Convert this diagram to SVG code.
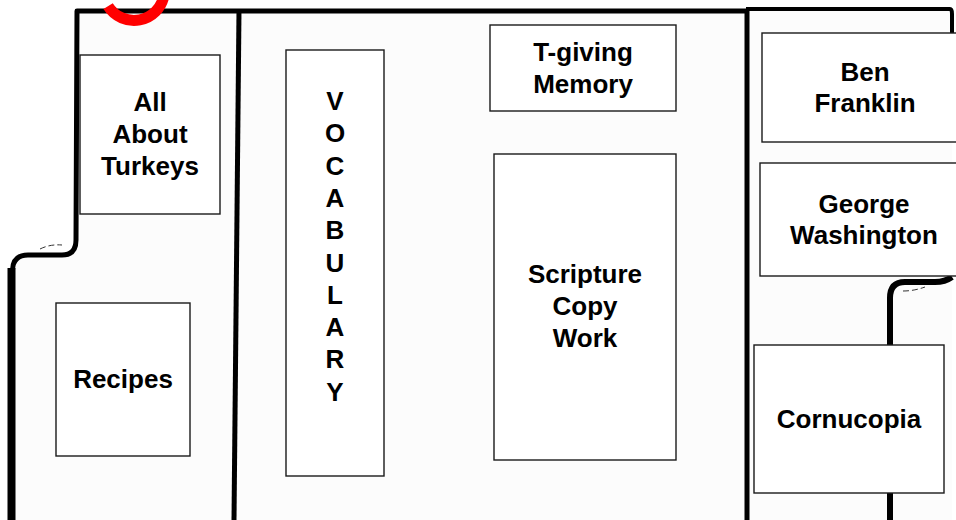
<svg xmlns="http://www.w3.org/2000/svg" width="956" height="520" viewBox="0 0 956 520">
<defs>
<style>
.box{fill:#ffffff;stroke:#1a1a1a;stroke-width:1.4}
.lbl{font-family:"Liberation Sans",Arial,sans-serif;font-weight:bold;font-size:26px;fill:#000;text-anchor:middle}
.edge{fill:none;stroke:#000;stroke-linecap:butt;stroke-linejoin:round}
.dash{fill:none;stroke:#333;stroke-width:1;stroke-dasharray:6 3}
</style>
</defs>
<rect x="0" y="0" width="956" height="520" fill="#ffffff"/>
<path d="M77,11 L952,10 L952,520 L12,520 L12,270 Q12,255 28,255 L62,255 Q76,255 76,240 Z" fill="#fcfcfc"/>
<g id="connectors">
<path class="edge" stroke-width="5" d="M12.5,520 L12.5,270 Q13,255 28,255 L62,255 Q76,255 76,240 L77,11 L748,11"/>
<path class="edge" stroke-width="8" d="M11.5,520 L11.5,268"/>
<path class="edge" stroke-width="4" d="M746,9 L950,9 Q952,9 952,14 L952,34"/>
<path class="edge" stroke-width="5" d="M239,10 L234,520"/>
<path class="edge" stroke-width="5" d="M747,9 L747,520"/>
<path class="edge" stroke-width="6" d="M952,277 Q945,282 935,282 L905,282 Q890,282 890,298 L890,520"/>
<path class="dash" d="M40,249 Q50,244 62,245"/>
<path class="dash" d="M903,291 Q914,291 925,287"/>
<path fill="none" stroke="#ff0000" stroke-width="11" d="M108.1,6.1 A30.5,30.5 0 0 0 164,-4.7"/>
</g>
<g id="turkeys"><rect class="box" x="80" y="55" width="140" height="159"/>
<text class="lbl" x="150" y="111">All</text><text class="lbl" x="150" y="143">About</text><text class="lbl" x="150" y="175">Turkeys</text></g>
<g id="recipes"><rect class="box" x="56" y="303" width="134" height="153"/>
<text class="lbl" x="123" y="388">Recipes</text></g>
<g id="vocabulary"><rect class="box" x="286" y="50" width="98" height="426"/>
<text class="lbl" x="335" y="110">V</text><text class="lbl" x="335" y="142">O</text><text class="lbl" x="335" y="175">C</text><text class="lbl" x="335" y="207">A</text><text class="lbl" x="335" y="239">B</text><text class="lbl" x="335" y="272">U</text><text class="lbl" x="335" y="304">L</text><text class="lbl" x="335" y="336">A</text><text class="lbl" x="335" y="368">R</text><text class="lbl" x="335" y="401">Y</text></g>
<g id="tgiving"><rect class="box" x="490" y="25" width="186" height="86"/>
<text class="lbl" x="583" y="61">T-giving</text><text class="lbl" x="583" y="93">Memory</text></g>
<g id="scripture"><rect class="box" x="494" y="154" width="182" height="306"/>
<text class="lbl" x="585" y="283">Scripture</text><text class="lbl" x="585" y="315">Copy</text><text class="lbl" x="585" y="347">Work</text></g>
<g id="franklin"><rect class="box" x="762" y="33" width="200" height="109"/>
<text class="lbl" x="865" y="81">Ben</text><text class="lbl" x="865" y="112">Franklin</text></g>
<g id="washington"><rect class="box" x="760" y="163" width="202" height="113"/>
<text class="lbl" x="864" y="213">George</text><text class="lbl" x="864" y="244">Washington</text></g>
<g id="cornucopia"><rect class="box" x="754" y="345" width="190" height="148"/>
<text class="lbl" x="849" y="428">Cornucopia</text></g>
</svg>
